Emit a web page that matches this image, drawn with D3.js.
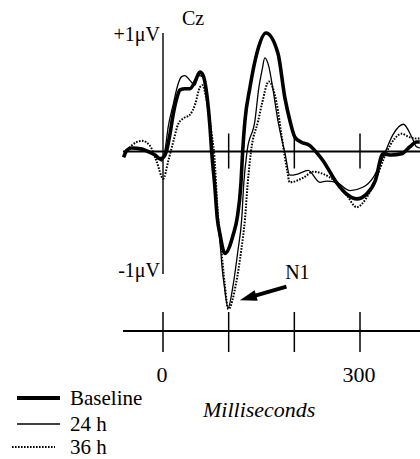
<!DOCTYPE html>
<html>
<head>
<meta charset="utf-8">
<script src="https://cdn.jsdelivr.net/npm/d3@7/dist/d3.min.js"></script>
<style>
  html, body { margin: 0; padding: 0; background: #fff; }
  svg { display: block; }
</style>
</head>
<body>
<div id="chart"></div>
<script>
// ---- data (ms, µV) ----
const baselineT = [-60, -55, -48, -32, -23, -12, -5, 0.5, 5.6, 10.7, 15.7, 21, 26, 33.5, 41, 48.7, 56.3, 61.3, 66.5, 71.5, 74.1, 79, 82.6, 86.8, 94.4, 107, 113, 118.7, 121.3, 124.8, 132.4, 143, 156.8, 175, 185.7, 193.3, 200.9, 210, 223.7, 234, 244, 264, 282, 295, 310, 323, 335, 348, 363, 376, 386, 391];
const baselineV = [-0.05, 0.01, 0.03, 0.02, 0.0, -0.03, -0.06, -0.05, 0.01, 0.15, 0.32, 0.45, 0.52, 0.53, 0.53, 0.59, 0.67, 0.64, 0.49, 0.21, 0.0, -0.30, -0.56, -0.70, -0.86, -0.70, -0.56, -0.27, 0.0, 0.26, 0.54, 0.83, 1.0, 0.83, 0.45, 0.26, 0.12, 0.08, 0.05, -0.01, -0.08, -0.26, -0.37, -0.40, -0.36, -0.25, -0.02, -0.03, -0.02, 0.04, 0.08, 0.08];

const h24T = [-60, -48, -32, -20, -10, -2, 3, 8, 15.7, 23, 28, 33.5, 41, 48.7, 54, 61, 66.5, 71.5, 75, 83, 88, 90, 93, 99, 107, 114, 120, 123, 128, 140, 146, 151, 155, 161, 167, 175, 186, 193, 205, 221, 239, 249, 264, 285, 305, 320, 338, 350, 366, 379, 386, 391];
const h24V = [-0.03, 0.03, 0.02, 0.0, -0.04, -0.08, 0.01, 0.21, 0.40, 0.57, 0.63, 0.64, 0.60, 0.56, 0.64, 0.63, 0.49, 0.21, 0.0, -0.56, -0.84, -0.98, -1.12, -1.32, -1.12, -0.84, -0.56, -0.27, 0.0, 0.26, 0.54, 0.69, 0.79, 0.72, 0.54, 0.26, -0.02, -0.20, -0.19, -0.16, -0.26, -0.25, -0.26, -0.33, -0.30, -0.22, -0.01, 0.14, 0.23, 0.12, 0.04, 0.03];

const h36T = [-60, -48, -32, -20, -10, 0.5, 8, 16, 23, 31, 41, 49, 56, 60, 66.5, 74, 77.6, 84, 89, 94, 99.5, 111, 119, 125, 129, 134, 145, 151, 161, 173, 181, 189, 193, 214, 229, 244, 264, 280, 295, 310, 325, 340, 353, 363, 376, 386, 391];
const h36V = [-0.03, 0.05, 0.09, 0.05, -0.08, -0.23, -0.08, 0.09, 0.23, 0.28, 0.31, 0.40, 0.54, 0.56, 0.43, 0.15, 0.0, -0.56, -0.84, -1.12, -1.33, -1.12, -0.84, -0.56, -0.27, 0.0, 0.26, 0.41, 0.59, 0.41, 0.12, -0.16, -0.26, -0.22, -0.17, -0.19, -0.26, -0.37, -0.47, -0.39, -0.22, -0.01, 0.11, 0.15, 0.12, 0.11, 0.11];

const seriesNames = ["Baseline", "24 h", "36 h"];
const timeTicks = [0, 100, 200, 300];
const timeTickLabels = ["0", "", "", "300"];
const zeroLineTicks = [100, 200, 300];
const voltLabels = ["+1\u03BCV", "-1\u03BCV"];
const voltValues = [1, -1];
const xTitle = "Milliseconds";
const channelName = "Cz";
const peakLabel = "N1";

// ---- layout ----
const FONT = "'Liberation Serif', 'Times New Roman', Times, 'DejaVu Serif', serif";
const W = 420, H = 459;
const svg = d3.select("#chart").append("svg").attr("width", W).attr("height", H)
  .style("font-family", FONT);

function txt(sel) { return sel.attr("font-family", FONT).style("font-family", FONT).attr("fill", "#000"); }

const x = d3.scaleLinear().domain([0, 300]).range([163, 360]);
const y = d3.scaleLinear().domain([-1, 1]).range([270, 33]);
const xMin = -61;
const timeAxisY = 331;

const styles = [
  { w: 3.6, dash: null },
  { w: 1.3, dash: null },
  { w: 2, dash: "1.6,1.4" }
];

// zero line
svg.append("line")
  .attr("x1", x(xMin)).attr("x2", W)
  .attr("y1", y(0)).attr("y2", y(0))
  .attr("stroke", "#000").attr("stroke-width", 2);
svg.selectAll(".zt").data(zeroLineTicks).enter().append("line")
  .attr("x1", d => x(d)).attr("x2", d => x(d))
  .attr("y1", y(0) - 18).attr("y2", y(0) + 17)
  .attr("stroke", "#000").attr("stroke-width", 1.5);

// vertical axis at 0 ms
svg.append("line")
  .attr("x1", x(0)).attr("x2", x(0))
  .attr("y1", y(1)).attr("y2", y(-1) + 4)
  .attr("stroke", "#000").attr("stroke-width", 1.4);

// voltage labels
svg.selectAll(".vl").data(voltValues).enter().append("text")
  .call(txt)
  .attr("x", x(0) - 3)
  .attr("y", (d, i) => i === 0 ? y(d) + 8 : y(d) + 7)
  .attr("text-anchor", "end")
  .attr("font-size", 20)
  .text((d, i) => voltLabels[i]);

// channel label
svg.append("text").call(txt).attr("x", 182).attr("y", 25).attr("font-size", 20).text(channelName);

// waveforms
const line = d3.line().x(d => x(d[0])).y(d => y(d[1])).curve(d3.curveMonotoneX);
const data = [
  d3.zip(baselineT, baselineV),
  d3.zip(h24T, h24V),
  d3.zip(h36T, h36V)
];
[2, 1, 0].forEach(i => {
  svg.append("path")
    .attr("d", line(data[i]))
    .attr("fill", "none")
    .attr("stroke", "#000")
    .attr("stroke-width", styles[i].w)
    .attr("stroke-dasharray", styles[i].dash)
    .attr("stroke-linejoin", "round");
});

// time axis
svg.append("line")
  .attr("x1", x(xMin)).attr("x2", W)
  .attr("y1", timeAxisY).attr("y2", timeAxisY)
  .attr("stroke", "#000").attr("stroke-width", 2);
svg.selectAll(".tt").data(timeTicks).enter().append("line")
  .attr("x1", d => x(d)).attr("x2", d => x(d))
  .attr("y1", timeAxisY - 19).attr("y2", timeAxisY + 21)
  .attr("stroke", "#000").attr("stroke-width", 1.5);
svg.selectAll(".tl").data(timeTicks).enter().append("text")
  .call(txt)
  .attr("x", d => x(d) - 1)
  .attr("y", 382)
  .attr("text-anchor", "middle")
  .attr("font-size", 22)
  .text((d, i) => timeTickLabels[i]);

svg.append("text").call(txt)
  .attr("x", 203).attr("y", 417)
  .attr("font-size", 22).attr("font-style", "italic")
  .text(xTitle);

// N1 annotation
const tip = [x(117), y(-1.255)];
const tail = [x(188), y(-1.14)];
const ang = Math.atan2(tail[1] - tip[1], tail[0] - tip[0]);
const hl = 17, hw = 5.5, sw = 2;
const bx = tip[0] + hl * Math.cos(ang), by = tip[1] + hl * Math.sin(ang);
const px = -Math.sin(ang), py = Math.cos(ang);
const arrowPts = [
  [tip[0], tip[1]],
  [bx + hw * px, by + hw * py],
  [bx + sw * px, by + sw * py],
  [tail[0] + sw * px, tail[1] + sw * py],
  [tail[0] - sw * px, tail[1] - sw * py],
  [bx - sw * px, by - sw * py],
  [bx - hw * px, by - hw * py]
];
svg.append("path").attr("d", d3.line()(arrowPts) + "Z").attr("fill", "#000");
svg.append("text").call(txt).attr("x", x(186)).attr("y", y(-1.076)).attr("font-size", 20).text(peakLabel);

// legend
const legRows = [398, 424, 447];
const legX1 = [17, 17, 12], legX2 = [60, 60, 55];
seriesNames.forEach((name, i) => {
  svg.append("line")
    .attr("x1", legX1[i]).attr("x2", legX2[i])
    .attr("y1", legRows[i]).attr("y2", legRows[i])
    .attr("stroke", "#000")
    .attr("stroke-width", i === 0 ? 4 : (i === 1 ? 1.5 : 2))
    .attr("stroke-dasharray", styles[i].dash);
  svg.append("text").call(txt)
    .attr("x", 70).attr("y", legRows[i] + 7)
    .attr("font-size", 21)
    .text(name);
});
</script>
</body>
</html>
